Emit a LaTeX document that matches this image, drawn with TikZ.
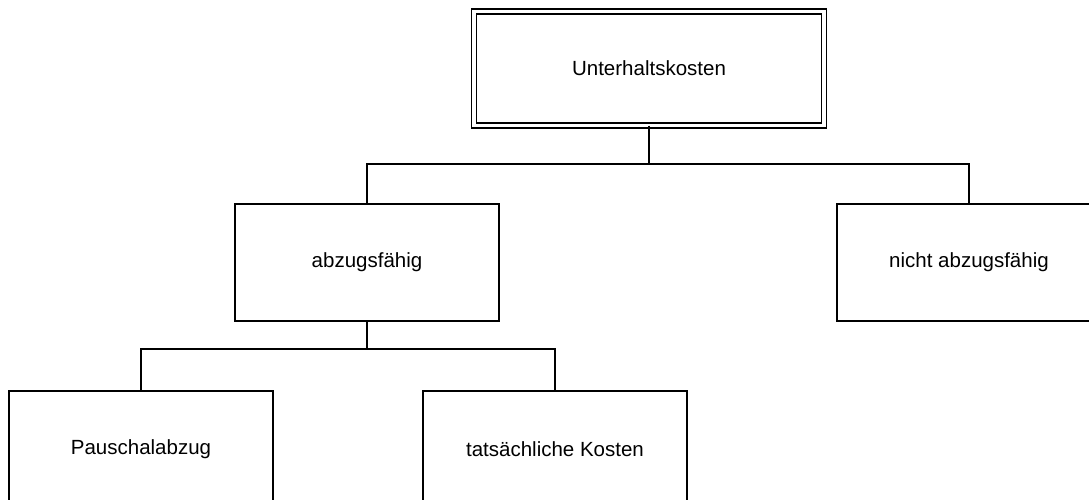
\documentclass[tikz,border=0pt]{standalone}
\usepackage{fontspec}
\setmainfont{Liberation Sans}
\usetikzlibrary{positioning}

\begin{document}
\begin{tikzpicture}[x=1pt, y=-1pt,
    box/.style={draw, line width=1.2pt, inner sep=0pt, outer sep=0pt, minimum width=264pt, minimum height=117pt, font=\fontsize{20.5}{24}\selectfont},
    rootbox/.style={box, double, double distance=3.8pt, minimum width=349.5pt, minimum height=114pt},
    conn/.style={line width=1.2pt}]
      \useasboundingbox (0, 0) rectangle (1089, 499);
      \clip (0, 0) rectangle (1089, 499);

      \node[rootbox] (kosten) at (649, 68.5) {Unterhaltskosten};
      \node[box] (abz) at (367, 262.5) {abzugsfähig};
      \node[box] (nabz) at (969, 262.5) {nicht abzugsfähig};
      \node[box] (pausch) at (141, 449.5) {Pauschalabzug};
      \node[box] (tats) at (555, 449.5) {tatsächliche Kosten};

      \coordinate (split1) at (649, 164);
      \coordinate (split2) at (367, 349);

      \draw[conn] (kosten.south) -- (split1);
      \draw[conn] (abz.north) |- (split1) -| (nabz.north);

      \draw[conn] (abz.south) -- (split2);
      \draw[conn] (pausch.north) |- (split2) -| (tats.north);

    \end{tikzpicture}
\end{document}
